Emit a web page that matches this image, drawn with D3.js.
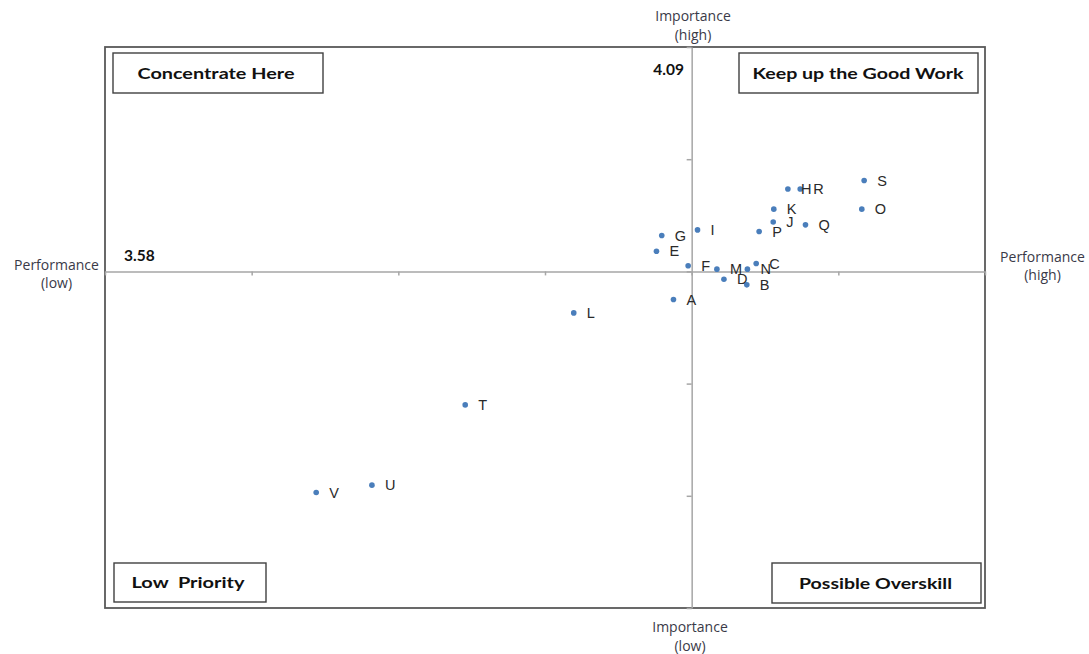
<!DOCTYPE html>
<html>
<head>
<meta charset="utf-8">
<script src="https://cdn.jsdelivr.net/npm/d3@7"></script>
<style>
  html, body { margin: 0; padding: 0; background: #ffffff; }
  svg { display: block; }
</style>
</head>
<body>
<svg id="chart" width="1089" height="654"></svg>
<script>
// ---- data ----
const labels      = ["A","B","C","D","E","F","G","H","I","J","K","L","M","N","O","P","Q","R","S","T","U","V"];
const performance = [4.059,4.184,4.200,4.145,4.030,4.084,4.039,4.254,4.100,4.229,4.230,3.889,4.133,4.185,4.380,4.205,4.284,4.275,4.384,3.704,3.545,3.450];
const importance  = [3.530,3.556,3.594,3.566,3.616,3.590,3.644,3.727,3.654,3.668,3.691,3.506,3.584,3.584,3.691,3.651,3.663,3.727,3.742,3.342,3.199,3.186];
const perfMean = 4.09;
const impMean  = 3.58;
const xTicks = [3.09, 3.34, 3.59, 3.84, 4.09, 4.34, 4.59];
const yTicks = [2.98, 3.18, 3.38, 3.58, 3.78, 3.98];
const quadrantNames = ["Concentrate Here", "Keep up the Good Work", "Low  Priority", "Possible Overskill"];

// ---- layout ----
const svg = d3.select("#chart");
const L = 105, R = 985, T = 47, B = 608;
const x = d3.scaleLinear().domain([3.09, 4.59]).range([L, R]);
const y = d3.scaleLinear().domain([2.98, 3.98]).range([B, T]);

const axisColor = "#a6a6a6";
const textFont = "Lato, 'Open Sans', sans-serif";

// plot border
svg.append("rect")
  .attr("x", L).attr("y", T).attr("width", R - L).attr("height", B - T)
  .attr("fill", "none").attr("stroke", "#595959").attr("stroke-width", 1.8);

// horizontal axis (crosses at importance mean)
const gx = svg.append("g")
  .attr("transform", `translate(0,${y(impMean)})`)
  .call(d3.axisBottom(x).tickValues(xTicks).tickSize(4).tickSizeOuter(0).tickFormat(""));
gx.selectAll("path,line").attr("stroke", axisColor).attr("stroke-width", 1.5);

// vertical axis (crosses at performance mean)
const gy = svg.append("g")
  .attr("transform", `translate(${x(perfMean)},0)`)
  .call(d3.axisLeft(y).tickValues(yTicks).tickSize(5).tickSizeOuter(0).tickFormat(""));
gy.selectAll("path,line").attr("stroke", axisColor).attr("stroke-width", 1.5);

// points
const pts = labels.map((l, i) => ({ l, p: performance[i], m: importance[i] }));
svg.append("g").selectAll("circle").data(pts).join("circle")
  .attr("cx", d => x(d.p)).attr("cy", d => y(d.m)).attr("r", 2.8)
  .attr("fill", "#4a7ebb");

svg.append("g").selectAll("text").data(pts).join("text")
  .attr("x", d => x(d.p) + 13).attr("y", d => y(d.m))
  .attr("dy", "0.36em")
  .attr("font-family", "'Liberation Sans', Arial, sans-serif")
  .attr("font-size", 14.5).attr("fill", "#2a2a2a")
  .text(d => d.l);

// mean value labels
svg.append("text").attr("x", 684).attr("y", 69).attr("dy", "0.36em")
  .attr("text-anchor", "end").attr("font-family", textFont)
  .attr("font-weight", "bold").attr("font-size", 15.5).attr("fill", "#111")
  .text(perfMean.toFixed(2));
svg.append("text").attr("x", 124).attr("y", 255).attr("dy", "0.36em")
  .attr("font-family", textFont)
  .attr("font-weight", "bold").attr("font-size", 15.5).attr("fill", "#111")
  .text(impMean.toFixed(2));

// quadrant boxes
const boxes = [
  { x0: 113, y0: 53, x1: 323, y1: 93, tx: 137.5, tw: 157 },
  { x0: 739, y0: 53, x1: 978, y1: 93, tx: 752.5, tw: 211 },
  { x0: 114, y0: 563, x1: 266, y1: 602, tx: 131.5, tw: 113 },
  { x0: 772, y0: 563, x1: 981, y1: 603, tx: 799, tw: 153 }
];
boxes.forEach((b, i) => {
  svg.append("rect")
    .attr("x", b.x0).attr("y", b.y0).attr("width", b.x1 - b.x0).attr("height", b.y1 - b.y0)
    .attr("fill", "#fff").attr("stroke", "#404040").attr("stroke-width", 1.4);
  svg.append("text")
    .attr("x", b.tx).attr("y", (b.y0 + b.y1) / 2).attr("dy", "0.36em")
    .attr("font-family", textFont).attr("font-weight", "bold")
    .attr("font-size", 16).attr("fill", "#111")
    .attr("textLength", b.tw).attr("lengthAdjust", "spacingAndGlyphs")
    .attr("xml:space", "preserve")
    .style("white-space", "pre")
    .text(quadrantNames[i]);
});

// axis titles
const titles = [
  { lines: ["Importance", "(high)"], cx: 693, ys: [16, 35] },
  { lines: ["Importance", "(low)"], cx: 690, ys: [627, 646] },
  { lines: ["Performance", "(low)"], cx: 56.5, ys: [265, 283] },
  { lines: ["Performance", "(high)"], cx: 1042.5, ys: [257, 275] }
];
titles.forEach(t => {
  t.lines.forEach((s, j) => {
    svg.append("text")
      .attr("x", t.cx).attr("y", t.ys[j]).attr("dy", "0.36em")
      .attr("text-anchor", "middle")
      .attr("font-family", "'Open Sans', Lato, sans-serif")
      .attr("font-size", 14).attr("fill", "#3a3a48")
      .text(s);
  });
});
</script>
</body>
</html>
